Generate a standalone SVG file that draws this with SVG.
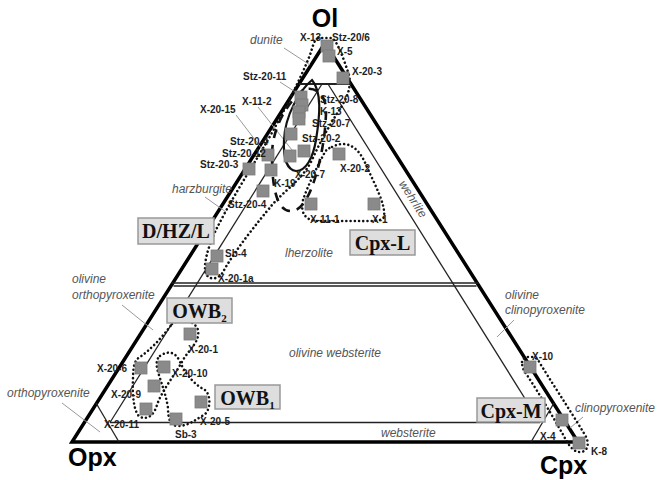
<svg xmlns="http://www.w3.org/2000/svg" width="657" height="480" viewBox="0 0 657 480">
<style>
.edge{fill:none;stroke:#000;stroke-width:3.5;stroke-linejoin:miter}
.thin{fill:none;stroke:#222;stroke-width:1.3}
.lead{fill:none;stroke:#999;stroke-width:1}
.dot{fill:none;stroke:#111;stroke-width:2.6;stroke-linecap:round;stroke-dasharray:0.01 4.2}
.dash{fill:none;stroke:#111;stroke-width:2.6;stroke-dasharray:9 7}
.solid{fill:none;stroke:#111;stroke-width:2.2}
.sq{fill:#8a8a8a;stroke:#7a7a7a;stroke-width:0.8}
.lab{font-family:'Liberation Sans',Arial,sans-serif;font-size:10px;font-weight:bold;fill:#1e1e1e}
.fld{font-family:'Liberation Sans',Arial,sans-serif;font-size:12px;font-style:italic;fill:#555}
.apex{font-family:'Liberation Sans',Arial,sans-serif;font-size:25px;font-weight:bold;fill:#000}
.box rect{fill:#dedede;stroke:#999;stroke-width:1.5}
.box text{font-family:'Liberation Serif','Times New Roman',serif;font-size:20px;font-weight:bold;fill:#111;text-anchor:middle}
</style>
<defs>
<rect id="s" x="-6" y="-6" width="12" height="12" class="sq"/>
</defs>
<g id="frame">
<polygon class="edge" points="325,43 72,442 578,442"/>
<line class="thin" x1="299" y1="84" x2="351" y2="84" style="stroke-width:1.8"/>
<line class="thin" x1="171.5" y1="283" x2="478.5" y2="283"/>
<line class="thin" x1="173.5" y1="286" x2="476.5" y2="286"/>
<line class="thin" x1="110" y1="422.5" x2="540" y2="422.5"/>
<line class="thin" x1="322" y1="84" x2="110" y2="422.5"/>
<line class="thin" x1="328" y1="84" x2="540" y2="422.5"/>
<line class="thin" x1="96" y1="403" x2="119" y2="442"/>
<line class="thin" x1="554" y1="403" x2="531" y2="442"/>
</g>
<g id="leaders">
<line class="lead" x1="284" y1="48" x2="310" y2="65"/>
<line class="lead" x1="205" y1="197" x2="226" y2="212"/>
<line class="lead" x1="122" y1="305" x2="153" y2="330"/>
<line class="lead" x1="62" y1="403" x2="100" y2="432"/>
<line class="lead" x1="514" y1="320" x2="497" y2="337"/>
<line class="lead" x1="583" y1="417" x2="570" y2="428"/>
<line class="lead" x1="280" y1="82" x2="300" y2="95"/>
<line class="lead" x1="258" y1="107" x2="292" y2="150"/>
<line class="lead" x1="236" y1="115" x2="262" y2="149"/>
</g>
<g id="connectors">
<path id="env-dhzl" class="dot" d="M318,38 L332,38 C338,42 344,60 349,75 C352,88 346,100 338,112 C328,128 320,142 312,160 C302,180 285,190 272,205 C258,222 235,250 223,272 C219,279 210,281 206,274 C203,266 207,250 215,232 C228,205 250,170 262,150 C280,120 300,80 310,55 C313,46 314,40 318,38 Z"/>
<path id="env-cpxl" class="dot" d="M332,147 C345,140 358,145 366,165 C375,185 386,205 384,217 C382,222 370,221 350,221 L318,221 C305,221 300,212 303,200 C308,185 318,165 325,152 C327,149 329,148 332,147 Z"/>
<path id="env-owb2" class="dot" d="M172,324 C180,318 195,320 198,330 C200,342 190,348 183,360 C175,375 162,390 157,405 C154,415 148,420 140,417 C134,413 132,395 133,380 C133,368 134,360 140,357 C150,350 160,340 172,324 Z"/>
<path id="env-owb1" class="dot" d="M160,356 C168,350 176,352 180,362 C186,375 195,385 205,390 C211,395 211,410 204,415 C195,420 188,426 178,426 C170,426 168,418 168,408 C166,395 162,385 158,372 C156,365 156,359 160,356 Z"/>
<path id="env-cpxm" class="dot" d="M522,362 C522,356 534,355 538,360 C550,380 570,410 585,435 C590,443 588,452 580,452 C574,452 570,447 566,440 C555,420 540,395 527,375 C523,370 522,366 522,362 Z"/>
<path id="env-solid" class="solid" d="M312,80 C300,90 285,115 284,140 C283,160 288,170 296,171 C306,171 313,158 316,140 C320,115 322,92 312,80 Z"/>
<path id="env-dash" class="dash" d="M303,90 C285,105 272,130 272,155 C272,185 276,210 290,211 C302,212 310,195 316,175 C322,155 326,130 326,110 C326,95 315,85 303,90 Z"/>
</g>
<g id="samples">
<use href="#s" x="327" y="46"/>
<use href="#s" x="329" y="56"/>
<use href="#s" x="343" y="78"/>
<use href="#s" x="301" y="97"/>
<use href="#s" x="302" y="105"/>
<use href="#s" x="299" y="112"/>
<use href="#s" x="299" y="119"/>
<use href="#s" x="291" y="134"/>
<use href="#s" x="290" y="156"/>
<use href="#s" x="304" y="151"/>
<use href="#s" x="268" y="155"/>
<use href="#s" x="271" y="170"/>
<use href="#s" x="249" y="169"/>
<use href="#s" x="263" y="191"/>
<use href="#s" x="339" y="154"/>
<use href="#s" x="311" y="204"/>
<use href="#s" x="374" y="204"/>
<use href="#s" x="217" y="256"/>
<use href="#s" x="212" y="269"/>
<use href="#s" x="190" y="334"/>
<use href="#s" x="141" y="368"/>
<use href="#s" x="164" y="367"/>
<use href="#s" x="154" y="386"/>
<use href="#s" x="146" y="409"/>
<use href="#s" x="201" y="402"/>
<use href="#s" x="176" y="419"/>
<use href="#s" x="530" y="367"/>
<use href="#s" x="562" y="420"/>
<use href="#s" x="579" y="443"/>
</g>
<g id="sample-labels" class="lab">
<text x="300" y="41">X-13</text>
<text x="332" y="41">Stz-20/6</text>
<text x="337" y="55">X-5</text>
<text x="352" y="75">X-20-3</text>
<text x="243" y="80">Stz-20-11</text>
<text x="242" y="105">X-11-2</text>
<text x="200" y="113">X-20-15</text>
<text x="320" y="103">Stz-20-8</text>
<text x="320" y="115">K-13</text>
<text x="312" y="127">Stz-20-7</text>
<text x="302" y="142">Stz-20-2</text>
<text x="230" y="145">Stz-20-4</text>
<text x="222" y="157">Stz-20-12</text>
<text x="200" y="168">Stz-20-3</text>
<text x="340" y="172">X-20-2</text>
<text x="295" y="178">X-20-7</text>
<text x="274" y="187">K-19</text>
<text x="228" y="208">Stz-20-4</text>
<text x="310" y="223">X-11-1</text>
<text x="372" y="223">X-1</text>
<text x="225" y="257">Sb-4</text>
<text x="218" y="282">X-20-1a</text>
<text x="188" y="353">X-20-1</text>
<text x="97" y="372">X-20-6</text>
<text x="172" y="377">X-20-10</text>
<text x="111" y="398">X-20-9</text>
<text x="104" y="428">X-20-11</text>
<text x="200" y="425">X-20-5</text>
<text x="175" y="438">Sb-3</text>
<text x="532" y="360">X-10</text>
<text x="540" y="440">X-4</text>
<text x="591" y="455">K-8</text>
</g>
<g id="field-labels" class="fld">
<text x="250" y="44">dunite</text>
<text x="172" y="193">harzburgite</text>
<text x="285" y="257">lherzolite</text>
<text transform="translate(413,199) rotate(57.6)" x="0" y="4" text-anchor="middle">wehrlite</text>
<text x="72" y="283">olivine</text>
<text x="72" y="299">orthopyroxenite</text>
<text x="289" y="357">olivine websterite</text>
<text x="505" y="299">olivine</text>
<text x="505" y="314">clinopyroxenite</text>
<text x="7" y="397">orthopyroxenite</text>
<text x="575" y="412">clinopyroxenite</text>
<text x="381" y="437">websterite</text>
</g>
<g id="apices" class="apex">
<text x="325" y="27" text-anchor="middle">Ol</text>
<text x="68" y="466">Opx</text>
<text x="540" y="474">Cpx</text>
</g>
<g id="box-dhzl" class="box"><rect x="138" y="218" width="76" height="26"/><text x="176" y="238">D/HZ/L</text></g>
<g id="box-cpxl" class="box"><rect x="350" y="230" width="65" height="25"/><text x="382.5" y="250">Cpx-L</text></g>
<g id="box-owb2" class="box"><rect x="167" y="298" width="65" height="25"/><text x="199.5" y="318">OWB<tspan font-size="11" dy="4">2</tspan></text></g>
<g id="box-owb1" class="box"><rect x="215" y="385" width="65" height="24"/><text x="247.5" y="405">OWB<tspan font-size="11" dy="4">1</tspan></text></g>
<g id="box-cpxm" class="box"><rect x="477" y="398" width="68" height="24"/><text x="511" y="418">Cpx-M</text></g>
</svg>
